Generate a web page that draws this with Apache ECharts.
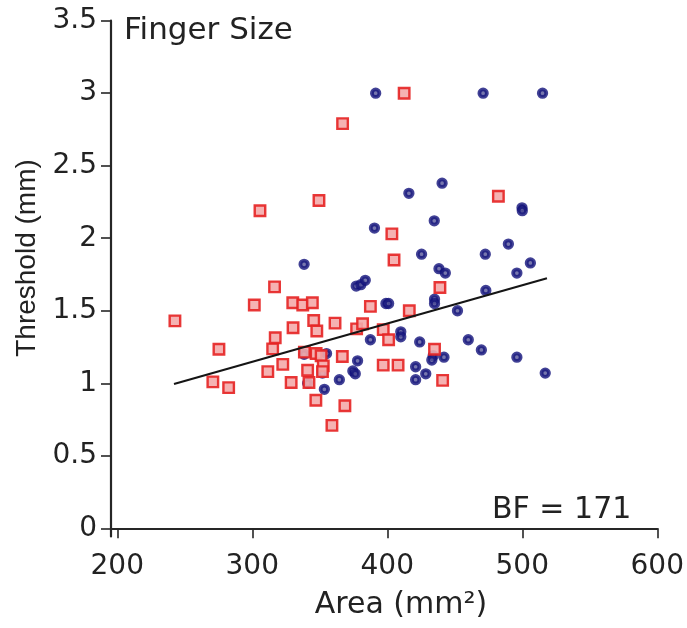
<!DOCTYPE html>
<html>
<head>
<meta charset="utf-8">
<script src="https://cdn.jsdelivr.net/npm/echarts@6/dist/echarts.min.js"></script>
<style>html,body{margin:0;padding:0;background:#fff;}#c{width:687px;height:628px;}</style>
</head>
<body>
<div id="c"></div>
<script>
// Blue circles (area mm², threshold mm)
const blueX = [391.4,471,515,440.6,416,499.8,500,390.5,434.8,489.7,425.4,472.6,506,496,338.4,438.3,443,377,380.4,383.7,473,435,435,399,401,452,410,410,387.5,424,460,469.7,338.4,355,442,434,496,378,421,433,374.5,376.3,428.5,421,364.5,353.4,517,341,352];
const blueY = [3.0,3.0,3.0,2.38,2.31,2.21,2.19,2.07,2.12,1.96,1.89,1.89,1.83,1.76,1.82,1.79,1.76,1.67,1.68,1.71,1.64,1.58,1.55,1.55,1.55,1.50,1.355,1.32,1.30,1.285,1.30,1.23,1.20,1.205,1.18,1.19,1.18,1.155,1.114,1.16,1.085,1.065,1.065,1.025,1.025,0.958,1.07,1.0,1.07];
// Red squares
const redX = [242.7,270.8,275.3,282.5,301.5,305.7,311.5,315.1,317,316.5,322.6,328.8,330.2,330,337.4,344.5,345.5,347.8,341,342,347.1,338.6,347.3,351,352.6,352,349.4,359,361.3,366.9,366.7,368.6,377.3,381.7,387.5,397,397,401,403.4,405,408,412.5,416.3,435,439,441,482.3];
const redY = [1.43,1.01,1.235,0.97,1.54,2.19,1.08,1.237,1.314,1.665,1.13,1.005,1.383,1.555,1.54,1.555,1.433,1.36,1.09,1.005,0.883,1.215,1.205,1.19,1.12,1.08,2.26,0.71,1.415,2.79,1.185,0.845,1.375,1.41,1.53,1.37,1.125,1.30,2.03,1.85,1.125,3.0,1.50,1.235,1.66,1.02,2.29];
// Regression line end points
const fitX = [242, 518.3];
const fitY = [0.995, 1.724];
// Axis ticks
const xTicks = [200, 300, 400, 500, 600];
const yTicks = [0, 0.5, 1, 1.5, 2, 2.5, 3, 3.5];

const zip = (a, b) => a.map((v, i) => [v, b[i]]);
const chart = echarts.init(document.getElementById('c'), null, {renderer: 'canvas'});
const axisColor = '#262626';
const labelFont = {fontFamily: 'DejaVu Sans', fontSize: 28, color: '#222'};
chart.setOption({
  animation: false,
  backgroundColor: '#fff',
  grid: {left: 111, right: 27, top: 20.7, bottom: 91.5, containLabel: false},
  xAxis: {
    type: 'value', min: 195.35, max: 600,
    axisLine: {show: true, lineStyle: {color: axisColor, width: 2.2}},
    axisTick: {show: true, customValues: xTicks, length: 10, lineStyle: {color: axisColor, width: 1.6}},
    axisLabel: Object.assign({customValues: xTicks, margin: 16}, labelFont),
    splitLine: {show: false}
  },
  yAxis: {
    type: 'value', min: -0.0565, max: 3.5,
    axisLine: {show: true, lineStyle: {color: axisColor, width: 2.2}},
    axisTick: {show: true, customValues: yTicks, length: 10, lineStyle: {color: axisColor, width: 1.6}},
    axisLabel: Object.assign({customValues: yTicks, margin: 14}, labelFont),
    splitLine: {show: false}
  },
  graphic: [
    {type: 'text', left: 124, top: 15, style: {text: 'Finger Size', font: '31px "DejaVu Sans"', fill: '#222'}},
    {type: 'text', left: 492, top: 495, style: {text: 'BF = 171', font: '30px "DejaVu Sans"', fill: '#222'}},
    {type: 'text', x: 401, y: 605, style: {text: 'Area (mm²)', font: '30px "DejaVu Sans"', fill: '#222', align: 'center', verticalAlign: 'middle'}},
    {type: 'text', x: 27, y: 258, rotation: Math.PI / 2, style: {text: 'Threshold (mm)', font: '28px "Liberation Sans"', fill: '#222', align: 'center', verticalAlign: 'middle'}}
  ],
  series: [
    {
      type: 'scatter', data: zip(blueX, blueY), symbol: 'circle', symbolSize: 7.5,
      itemStyle: {color: '#55559a', borderColor: '#12127a', borderWidth: 3.8}, z: 2
    },
    {
      type: 'scatter', data: zip(redX, redY), symbol: 'rect', symbolSize: 10.5,
      itemStyle: {color: '#f4aaaa', borderColor: '#e52222', borderWidth: 2.4, opacity: 0.9}, z: 3
    },
    {
      type: 'line', data: zip(fitX, fitY), symbol: 'none',
      lineStyle: {color: '#151515', width: 2.2}, z: 4
    }
  ]
});
</script>
</body>
</html>
